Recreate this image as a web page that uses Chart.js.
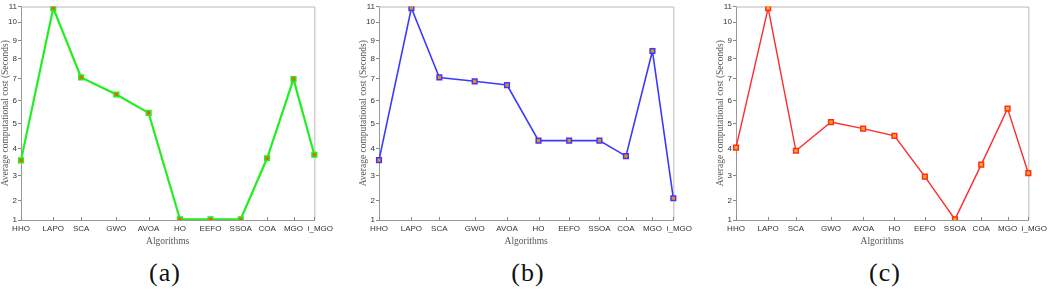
<!DOCTYPE html>
<html>
<head>
<meta charset="utf-8">
<script src="https://cdn.jsdelivr.net/npm/chart.js@4.4.1/dist/chart.umd.min.js"></script>
<style>
  body { margin: 0; background: #fff; }
  #wrap { position: relative; width: 1052px; height: 291px; overflow: hidden; }
  canvas { position: absolute; top: 0; }
  .cap { position: absolute; top: 258px; width: 60px; margin-left: -30px; text-align: center;
         font-family: 'Liberation Serif', serif; font-size: 26px; letter-spacing: 1px; color: #111; }
</style>
</head>
<body>
<div id="wrap">
  <canvas id="chartA" width="337" height="250" style="left:0px"></canvas>
  <canvas id="chartB" width="338" height="250" style="left:358px"></canvas>
  <canvas id="chartC" width="336" height="250" style="left:715px"></canvas>
  <div class="cap" style="left:165px">(a)</div>
  <div class="cap" style="left:528px">(b)</div>
  <div class="cap" style="left:885px">(c)</div>
</div>
<script>
const categories = ['HHO', 'LAPO', 'SCA', 'GWO', 'AVOA', 'HO', 'EEFO', 'SSOA', 'COA', 'MGO', 'i_MGO'];
const yTicks = [1, 2, 3, 4, 5, 6, 7, 8, 9, 10, 11];

const costA = [3.57, 10.9, 7.05, 6.27, 5.47, 1.04, 1.04, 1.04, 3.65, 6.97, 3.78];
const costB = [3.58, 10.9, 7.05, 6.87, 6.70, 4.33, 4.33, 4.33, 3.73, 8.42, 2.10];
const costC = [4.05, 10.9, 3.93, 5.08, 4.81, 4.52, 2.96, 1.03, 3.41, 5.65, 3.09];

// the original axes are not evenly spaced, so both scales get a piecewise warp
function makeWarp(knots) {
  const n = knots.length - 1;
  const fwd = d => {
    const i = Math.max(0, Math.min(n - 1, Math.floor(d * n)));
    const t = d * n - i;
    return knots[i] + t * (knots[i + 1] - knots[i]);
  };
  const inv = p => {
    let i = 0;
    while (i < n - 1 && p > knots[i + 1]) i++;
    const t = (p - knots[i]) / (knots[i + 1] - knots[i]);
    return (i + t) / n;
  };
  return { fwd, inv };
}
const warpX = makeWarp([0, .11, .205, .325, .435, .542, .646, .749, .839, .929, 1]);
const warpY = makeWarp([0, .090, .208, .333, .450, .560, .663, .756, .841, .927, 1]);

class WarpCategoryScale extends Chart.CategoryScale {
  getPixelForDecimal(d) { return super.getPixelForDecimal(warpX.fwd(d)); }
  getDecimalForPixel(p) { return warpX.inv(super.getDecimalForPixel(p)); }
}
WarpCategoryScale.id = 'warpCategory';
WarpCategoryScale.defaults = Chart.CategoryScale.defaults;

class WarpLinearScale extends Chart.LinearScale {
  getPixelForDecimal(d) { return super.getPixelForDecimal(warpY.fwd(d)); }
  getDecimalForPixel(p) { return warpY.inv(super.getDecimalForPixel(p)); }
}
WarpLinearScale.id = 'warpLinear';
WarpLinearScale.defaults = Chart.LinearScale.defaults;

Chart.register(WarpCategoryScale, WarpLinearScale);

// top/right frame and the small inward ticks on the x axis
const framePlugin = {
  id: 'frame',
  beforeDatasetsDraw(chart) {
    const { ctx, chartArea: a } = chart;
    const xs = chart.scales.x;
    ctx.save();
    ctx.strokeStyle = '#b8b8b8';
    ctx.lineWidth = 1;
    ctx.beginPath();
    ctx.moveTo(a.left, a.top + 0.5);
    ctx.lineTo(a.right + 0.5, a.top + 0.5);
    ctx.lineTo(a.right + 0.5, a.bottom);
    ctx.stroke();
    ctx.strokeStyle = '#888';
    ctx.beginPath();
    xs.ticks.forEach((t, i) => {
      const px = Math.round(xs.getPixelForTick(i)) + 0.5;
      ctx.moveTo(px, a.bottom);
      ctx.lineTo(px, a.bottom - 3);
    });
    ctx.stroke();
    ctx.restore();
  }
};

// last label sits a little right of its tick in the original
const xLabel = (v, i) => (i === categories.length - 1 ? '\u2002\u2002\u2002' : '') + categories[i];

function makePanel(id, values, line, edge, fill, width, rightPad) {
  new Chart(document.getElementById(id), {
    type: 'line',
    data: {
      labels: categories,
      datasets: [{
        data: values,
        borderColor: line,
        borderWidth: width,
        pointStyle: 'rect',
        pointRadius: 3.3,
        pointBorderWidth: 1.5,
        pointBorderColor: edge,
        pointBackgroundColor: fill,
        tension: 0
      }]
    },
    options: {
      responsive: false,
      animation: false,
      layout: { padding: { left: 0, right: rightPad, top: 6.5, bottom: 0 } },
      plugins: { legend: { display: false }, tooltip: { enabled: false } },
      scales: {
        x: {
          type: 'warpCategory',
          offset: false,
          afterFit(s) { s.height = 30; },
          grid: { drawOnChartArea: false, drawTicks: false },
          border: { color: '#9a9a9a', width: 1 },
          ticks: { color: '#333', padding: 4, maxRotation: 0, autoSkip: false, callback: xLabel,
                   font: { family: 'Liberation Sans', size: 8 } },
          title: { display: true, text: 'Algorithms', color: '#555',
                   padding: { top: 0, bottom: 2.6 },
                   font: { family: 'Liberation Serif', size: 9.5 } }
        },
        y: {
          type: 'warpLinear',
          min: yTicks[0],
          max: yTicks[yTicks.length - 1],
          afterFit(s) { s.width = 21; },
          afterBuildTicks(s) { s.ticks = yTicks.map(v => ({ value: v })); },
          grid: { drawOnChartArea: false, drawTicks: true, tickLength: 3, tickColor: '#888' },
          border: { color: '#9a9a9a', width: 1 },
          ticks: { color: '#333', padding: 1,
                   font: { family: 'Liberation Sans', size: 8 } },
          title: { display: true, text: 'Average computational cost (Seconds)', color: '#555',
                   padding: { top: 0, bottom: 0 },
                   font: { family: 'Liberation Serif', size: 9.5 } }
        }
      }
    },
    plugins: [framePlugin]
  });
}

makePanel('chartA', costA, '#22ee22', '#22ee22', '#ff5a00', 2.2, 20.3);
makePanel('chartB', costB, '#3a3aff', '#3a3aff', '#ff8c00', 1.6, 20);
makePanel('chartC', costC, '#ff2a2a', '#ff2a2a', '#ffb000', 1.4, 20);
</script>
</body>
</html>
